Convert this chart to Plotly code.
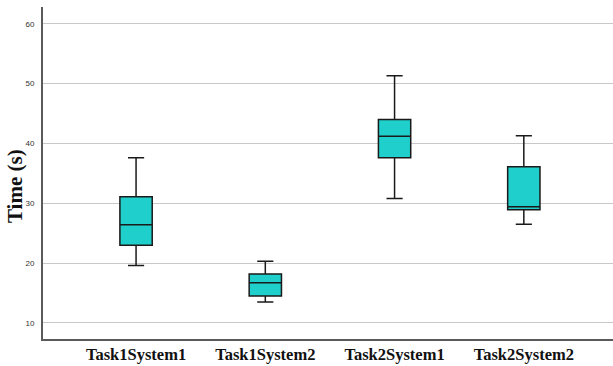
import plotly.graph_objects as go

# Summary statistics per condition (seconds)
conditions = ["Task1System1", "Task1System2", "Task2System1", "Task2System2"]
lower_whisker = [19.6, 13.5, 30.8, 26.5]
q1_values = [23.0, 14.5, 37.6, 28.9]
median_values = [26.4, 16.7, 41.2, 29.4]
q3_values = [31.1, 18.2, 44.0, 36.1]
upper_whisker = [37.6, 20.3, 51.3, 41.3]

y_ticks = [10, 20, 30, 40, 50, 60]

fig = go.Figure()
fig.add_trace(go.Box(
    x=conditions,
    lowerfence=lower_whisker,
    q1=q1_values,
    median=median_values,
    q3=q3_values,
    upperfence=upper_whisker,
    fillcolor="#1FCFCC",
    line=dict(color="#1a1a1a", width=1.5),
    width=0.25,
    whiskerwidth=0.5,
    boxpoints=False,
    showlegend=False,
    hoverinfo="skip",
))

fig.update_layout(
    width=613,
    height=366,
    margin=dict(l=43, r=0, t=7, b=27),
    paper_bgcolor="white",
    plot_bgcolor="white",
    xaxis=dict(
        type="category",
        range=[-0.72, 3.69],
        showgrid=False,
        showline=True,
        linecolor="#5a5a5a",
        linewidth=2,
        ticks="",
        ticklabelstandoff=-1,
        tickfont=dict(family="Liberation Serif", size=16.5, color="#111111", weight="bold"),
        zeroline=False,
    ),
    yaxis=dict(
        range=[7.32, 62.8],
        tickvals=y_ticks,
        showgrid=True,
        gridcolor="#c8c8c8",
        gridwidth=1.2,
        showline=True,
        linecolor="#5a5a5a",
        linewidth=2,
        ticks="",
        ticklabelstandoff=5,
        tickfont=dict(family="Liberation Sans", size=8, color="#333333"),
        zeroline=False,
    ),
    annotations=[dict(
        text="Time (s)",
        textangle=-90,
        xref="paper", yref="paper",
        x=-0.049, y=0.461,
        xanchor="center", yanchor="middle",
        showarrow=False,
        font=dict(family="Liberation Serif", size=21, color="#111111", weight="bold"),
    )],
)

fig.write_html("out.html")
